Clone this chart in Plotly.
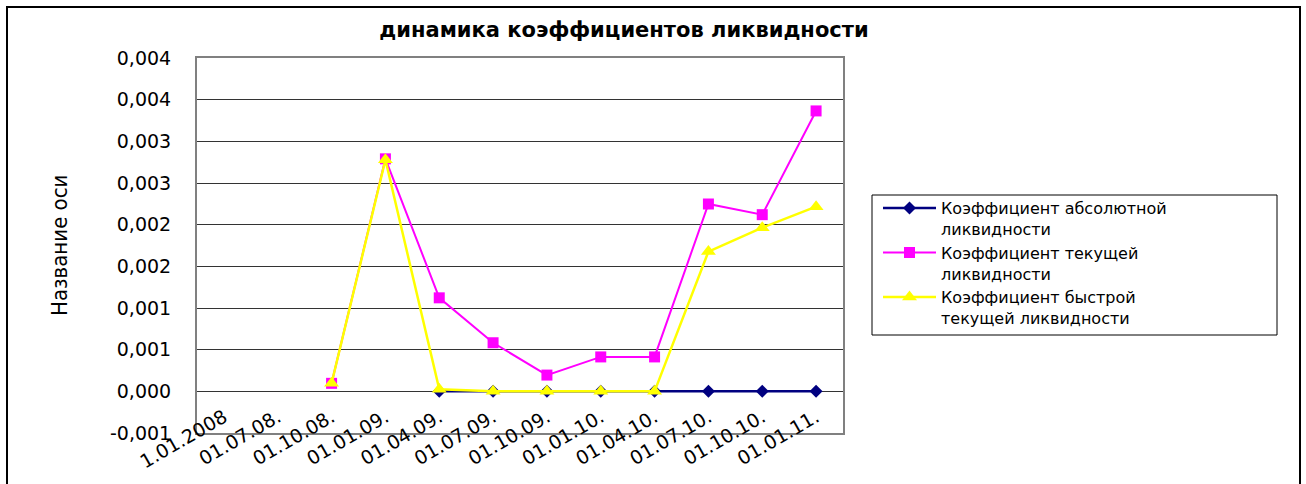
import plotly.graph_objects as go

categories = ["1.01.2008", "01.07.08.", "01.10.08.", "01.01.09.", "01.04.09.", "01.07.09.",
              "01.10.09.", "01.01.10.", "01.04.10.", "01.07.10.", "01.10.10.", "01.01.11."]

abs_liq = [None, None, None, None, 0.0, 0.0, 0.0, 0.0, 0.0, 0.0, 0.0, 0.0]
cur_liq = [None, None, 0.000096, 0.00279, 0.001122, 0.000583, 0.000195, 0.000413, 0.000413,
           0.002248, 0.00212, 0.003365]
quick_liq = [None, None, 0.000096, 0.00278, 0.000024, 0.0, 0.0, 0.0, 0.0,
             0.001677, 0.001964, 0.002216]

series_names = ["Коэффициент абсолютной<br>ликвидности",
                "Коэффициент текущей<br>ликвидности",
                "Коэффициент быстрой<br>текущей ликвидности"]

y_tickvals = [-0.0005, 0.0, 0.0005, 0.001, 0.0015, 0.002, 0.0025, 0.003, 0.0035, 0.004]
y_ticktext = ["-0,001", "0,000", "0,001", "0,001", "0,002", "0,002", "0,003", "0,003", "0,004", "0,004"]

title_text = "динамика коэффициентов ликвидности"
y_title_text = "Название оси"

W, H = 1306, 484
L, R, T, B = 197, 843, 58, 433

fig = go.Figure()
fig.add_trace(go.Scatter(x=categories, y=abs_liq, name=series_names[0], mode="lines+markers",
                         line=dict(color="#000080", width=2.5),
                         marker=dict(symbol="diamond", size=10, color="#000080")))
fig.add_trace(go.Scatter(x=categories, y=cur_liq, name=series_names[1], mode="lines+markers",
                         line=dict(color="#FF00FF", width=2),
                         marker=dict(symbol="square", size=11, color="#FF00FF")))
fig.add_trace(go.Scatter(x=categories, y=quick_liq, name=series_names[2], mode="lines+markers",
                         line=dict(color="#FFFF00", width=2.5),
                         marker=dict(symbol="triangle-up", size=13, color="#FFFF00")))

pw = R - L
ph = B - T

fig.update_layout(
    width=W, height=H,
    margin=dict(l=L, r=W - R, t=T, b=H - B, autoexpand=False),
    paper_bgcolor="white", plot_bgcolor="white",
    font=dict(family="DejaVu Sans, Liberation Sans, Arial", color="black"),
    title=dict(text="<b>" + title_text + "</b>", x=624 / W, xanchor="center",
               y=1 - 30 / H, yanchor="middle",
               font=dict(family="DejaVu Sans, Liberation Sans", size=21, color="black")),
    xaxis=dict(type="category", categoryorder="array", categoryarray=categories,
               range=[-0.5, len(categories) - 0.5], showgrid=False, zeroline=False,
               showline=True, linecolor="#808080", linewidth=2, mirror=True,
               ticks="", tickangle=-30, ticklabelstandoff=-36,
               tickfont=dict(family="DejaVu Sans", size=19, color="black")),
    yaxis=dict(range=[-0.0005, 0.004], tickvals=y_tickvals, ticktext=y_ticktext,
               showgrid=True, gridcolor="#333333", gridwidth=1, zeroline=False,
               showline=True, linecolor="#808080", linewidth=2, mirror=True,
               ticks="", ticklabelstandoff=20,
               tickfont=dict(family="DejaVu Sans", size=19, color="black")),
    legend=dict(x=(878 - L) / pw, y=(B - 191) / ph, xanchor="left", yanchor="top",
                bgcolor="rgba(0,0,0,0)", borderwidth=0, valign="top", itemwidth=53,
                font=dict(family="DejaVu Sans", size=16, color="black"),
                tracegroupgap=0),
    showlegend=True,
    shapes=[
        dict(type="rect", xref="paper", yref="paper",
             x0=(872 - L) / pw, x1=(1277 - L) / pw, y0=(B - 335) / ph, y1=(B - 195) / ph,
             line=dict(color="black", width=1), fillcolor="rgba(0,0,0,0)", layer="below"),
        dict(type="rect", xref="paper", yref="paper",
             x0=(7 - L) / pw, x1=(1300 - L) / pw, y0=(B - 495) / ph, y1=(B - 7) / ph,
             line=dict(color="black", width=2), fillcolor="rgba(0,0,0,0)", layer="below"),
    ],
    annotations=[
        dict(text=y_title_text, xref="paper", yref="paper", x=(59 - L) / pw, y=(B - 246) / ph,
             xanchor="center", yanchor="middle", textangle=-90, showarrow=False,
             font=dict(family="Liberation Sans Narrow, DejaVu Sans Condensed, Liberation Sans",
                       size=22, color="black")),
    ],
)

fig.write_html("out.html")
